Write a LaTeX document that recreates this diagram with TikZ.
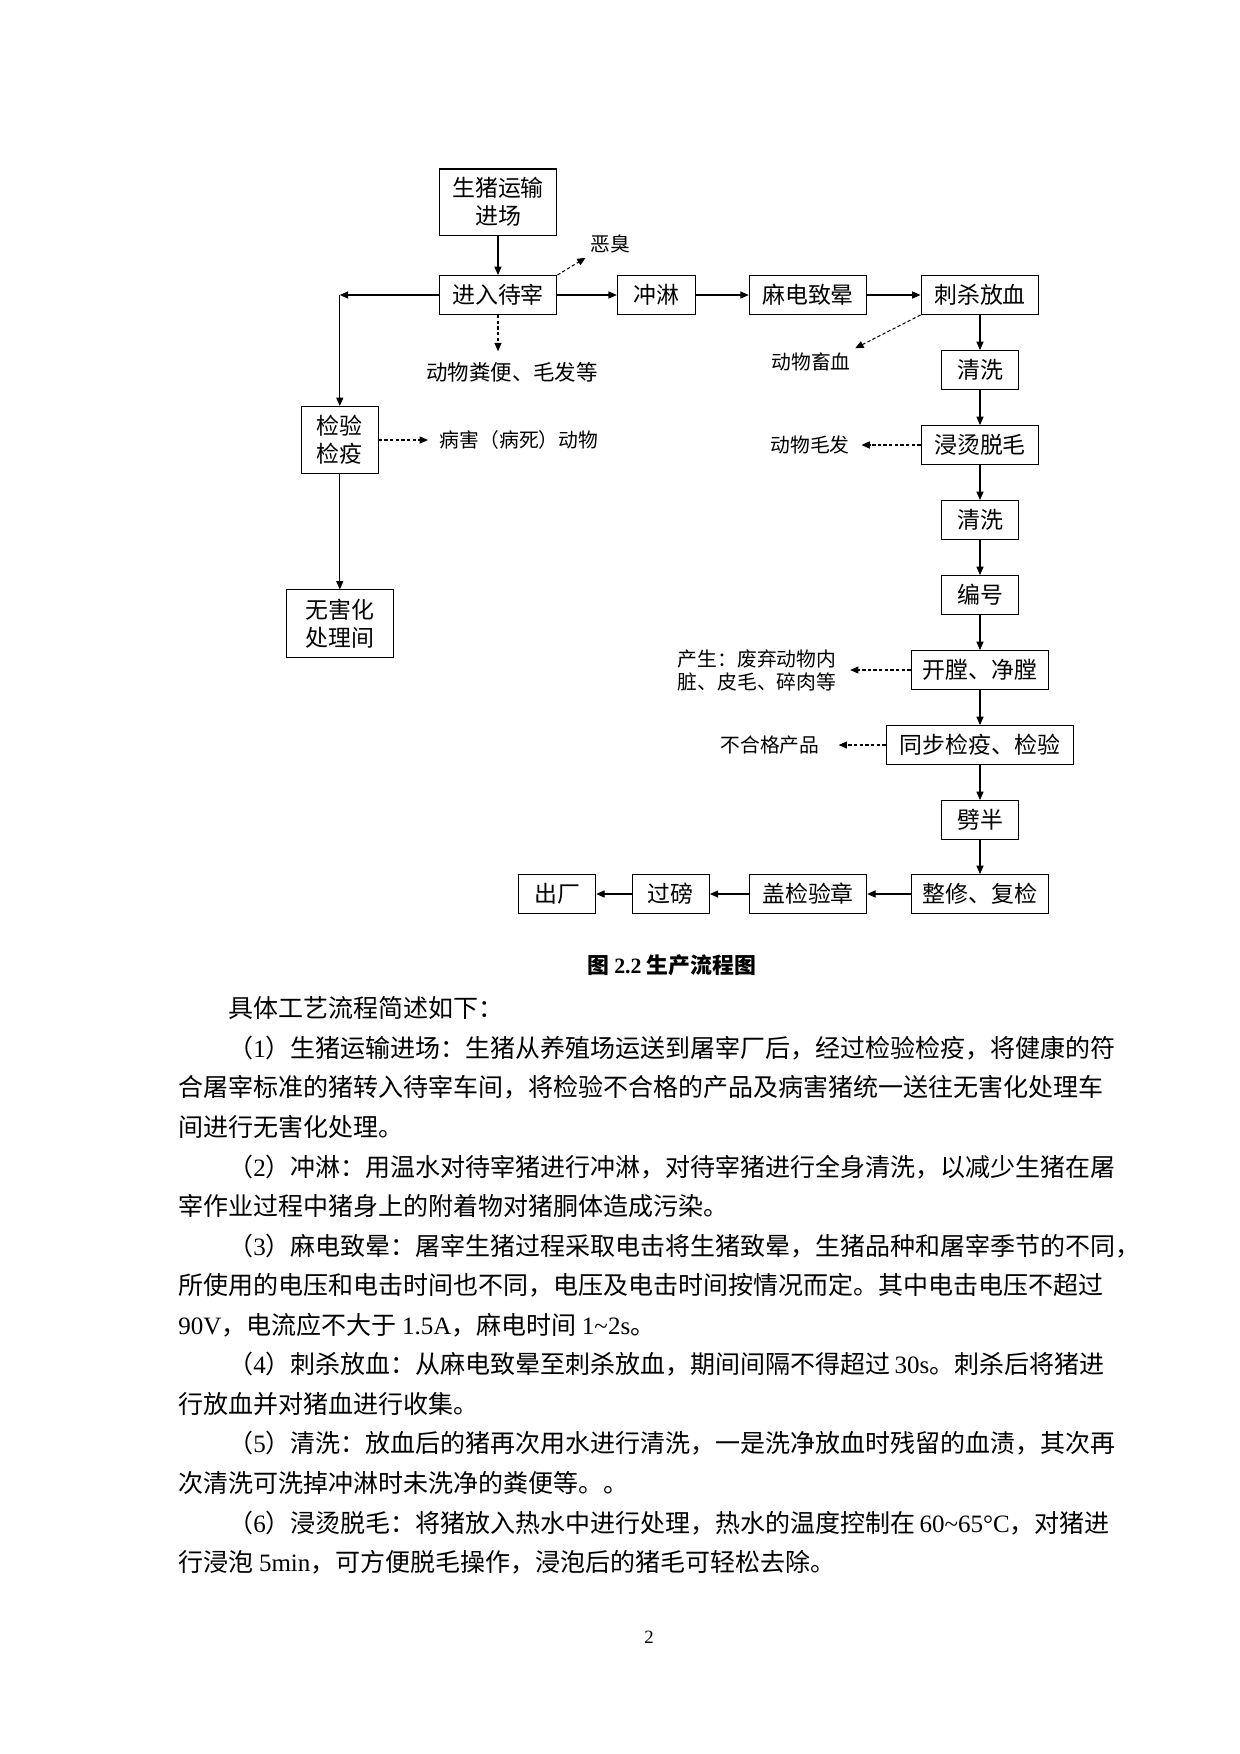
\documentclass[tikz,border=0pt]{standalone}
\usepackage{fontspec}
\setmainfont{Noto Sans CJK SC}
\newfontfamily\tnr{Liberation Serif}
\usetikzlibrary{arrows.meta}
\XeTeXlinebreaklocale "zh"
\XeTeXlinebreakskip=0pt plus 1pt minus 0.3pt
\newcommand{\boxfont}{\fontsize{11pt}{13.4pt}\selectfont}
\newcommand{\labfont}{\fontsize{9.5pt}{11pt}\selectfont}
\newcommand{\bodyfont}{\fontsize{12pt}{14pt}\selectfont}

\begin{document}
\begin{tikzpicture}[x=0.48pt, y=-0.48pt,
  >={Triangle[length=4pt,width=3.4pt]},
  box/.style={draw, line width=0.5pt, inner sep=0pt, minimum height=18.7pt, align=center, font=\boxfont},
  lab/.style={inner sep=2pt, align=left, font=\labfont},
  flow/.style={->, line width=0.5pt},
  spill/.style={->, line width=0.5pt, dash pattern=on 1.6pt off 1.1pt},
  bodyline/.style={anchor=base west, inner sep=0pt, font=\bodyfont}]
\path[use as bounding box, fill=white] (0,0) rectangle (1240,1754);

\node[box, minimum width=56.6pt, minimum height=31.7pt] (truck) at (498,202) {生猪运输\\进场};
\node[box, minimum width=56.6pt] (pen) at (498,295) {进入待宰};
\node[box, minimum width=37.6pt] (shower) at (656.5,295) {冲淋};
\node[box, minimum width=56.4pt] (stun) at (808,295) {麻电致晕};
\node[box, minimum width=56.6pt] (stick) at (980,295) {刺杀放血};
\node[box, minimum width=37pt] (washa) at (980,370) {清洗};
\node[box, minimum width=56.6pt] (scald) at (980,445) {浸烫脱毛};
\node[box, minimum width=37pt] (washb) at (980,520) {清洗};
\node[box, minimum width=37pt] (tag) at (980,595) {编号};
\node[box, minimum width=66.2pt] (gut) at (980,670) {开膛、净膛};
\node[box, minimum width=90.2pt] (recheck) at (980,745) {同步检疫、检验};
\node[box, minimum width=37pt] (halve) at (980,820) {劈半};
\node[box, minimum width=66.2pt] (trim) at (980,894) {整修、复检};
\node[box, minimum width=56.4pt] (stamp) at (808,894) {盖检验章};
\node[box, minimum width=37pt] (weigh) at (670.8,894) {过磅};
\node[box, minimum width=37.2pt] (leave) at (557,894) {出厂};
\node[box, minimum width=37pt, minimum height=32.2pt] (inspect) at (339.8,440) {检验\\检疫};
\node[box, minimum width=51.2pt, minimum height=32.2pt] (safe) at (339.8,623.5) {无害化\\处理间};

\node[lab] (odor) at (610,244) {恶臭};
\node[lab, font=\fontsize{10.3pt}{12pt}\selectfont, inner ysep=5pt] (dung) at (512,372) {动物粪便、毛发等};
\node[lab, inner xsep=5.5pt] (sick) at (519,440) {病害（病死）动物};
\node[lab] (blood) at (811,362) {动物畜血};
\node[lab, inner xsep=5.5pt] (hair) at (810,445) {动物毛发};
\node[lab, inner xsep=6.5pt] (offal) at (757,670) {产生：废弃动物内\\脏、皮毛、碎肉等};
\node[lab, inner xsep=9pt] (reject) at (770,745) {不合格产品};

\draw[flow] (truck) -- (pen);
\draw[flow] (pen) -- (shower);
\draw[flow] (shower) -- (stun);
\draw[flow] (stun) -- (stick);
\draw[flow] (stick) -- (washa);
\draw[flow] (washa) -- (scald);
\draw[flow] (scald) -- (washb);
\draw[flow] (washb) -- (tag);
\draw[flow] (tag) -- (gut);
\draw[flow] (gut) -- (recheck);
\draw[flow] (recheck) -- (halve);
\draw[flow] (halve) -- (trim);
\draw[flow] (trim) -- (stamp);
\draw[flow] (stamp) -- (weigh);
\draw[flow] (weigh) -- (leave);
\coordinate (bend) at (inspect.north |- pen.west);
\draw[flow] (pen) -- (bend);
\draw[flow] (bend) -- (inspect);
\draw[flow] (inspect) -- (safe);

\draw[spill] (pen.north east) -- (odor.south west);
\draw[spill] (pen.south) -- (pen.south |- dung.north);
\draw[spill] (inspect) -- (sick);
\draw[spill] (stick.south west) -- (blood.north east);
\draw[spill] (scald) -- (hair);
\draw[spill] (gut) -- (offal);
\draw[spill] (recheck) -- (reject);

\node[anchor=base, inner sep=0pt, font=\fontsize{10.5pt}{12pt}\selectfont\bfseries] (caption) at (671.7,973) {图 {\tnr\bfseries 2.2} 生产流程图};

\node[bodyline] (intro) at (228,1017.8) {具体工艺流程简述如下：};
\node[bodyline] (pa) at (228,1057.4) {\hbox to 419.3pt{（{\tnr 1}）生猪运输进场：生猪从养殖场运送到屠宰厂后，经过检验检疫，将健康的符}};
\node[bodyline] (pb) at (178,1096.9) {\hbox to 443.3pt{合屠宰标准的猪转入待宰车间，将检验不合格的产品及病害猪统一送往无害化处理车}};
\node[bodyline] (pc) at (178,1136.5) {间进行无害化处理。};
\node[bodyline] (pd) at (228,1176.0) {\hbox to 419.3pt{（{\tnr 2}）冲淋：用温水对待宰猪进行冲淋，对待宰猪进行全身清洗，以减少生猪在屠}};
\node[bodyline] (pe) at (178,1215.6) {宰作业过程中猪身上的附着物对猪胴体造成污染。};
\node[bodyline] (pf) at (228,1255.1) {\hbox to 425pt{（{\tnr 3}）麻电致晕：屠宰生猪过程采取电击将生猪致晕，生猪品种和屠宰季节的不同，}};
\node[bodyline] (pg) at (178,1294.7) {\hbox to 443.3pt{所使用的电压和电击时间也不同，电压及电击时间按情况而定。其中电击电压不超过}};
\node[bodyline] (ph) at (178,1334.2) {{\tnr 90V}，电流应不大于 {\tnr 1.5A}，麻电时间 {\tnr 1\textasciitilde 2s}。};
\node[bodyline] (pi) at (228,1373.8) {\hbox to 419.3pt{（{\tnr 4}）刺杀放血：从麻电致晕至刺杀放血，期间间隔不得超过 {\tnr 30s}。刺杀后将猪进}};
\node[bodyline] (pj) at (178,1413.3) {行放血并对猪血进行收集。};
\node[bodyline] (pk) at (228,1452.9) {\hbox to 419.3pt{（{\tnr 5}）清洗：放血后的猪再次用水进行清洗，一是洗净放血时残留的血渍，其次再}};
\node[bodyline] (pl) at (178,1492.4) {次清洗可洗掉冲淋时未洗净的粪便等。。};
\node[bodyline] (pm) at (228,1532.0) {\hbox to 419.3pt{（{\tnr 6}）浸烫脱毛：将猪放入热水中进行处理，热水的温度控制在 {\tnr 60\textasciitilde 65°C}，对猪进}};
\node[bodyline] (pn) at (178,1571.5) {行浸泡 {\tnr 5min}，可方便脱毛操作，浸泡后的猪毛可轻松去除。};

\node[anchor=base, inner sep=0pt, font=\tnr\fontsize{9pt}{10pt}\selectfont] (pageno) at (649,1643) {2};
\end{tikzpicture}
\end{document}
